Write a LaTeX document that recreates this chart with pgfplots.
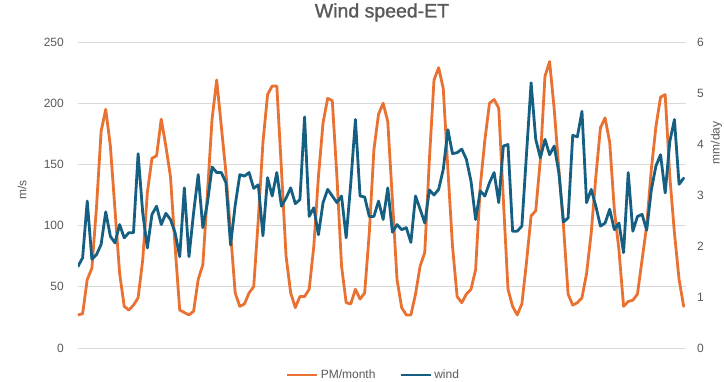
\documentclass[border=0pt]{standalone}
\usepackage{pgfplots}
\pgfplotsset{compat=1.18}
\usepackage{pgfplotstable}
\usepackage{fontspec}
\setmainfont{Liberation Sans}
\newfontfamily\titlefont[FakeBold=1.2]{Liberation Sans}
\definecolor{pmorange}{HTML}{E97132}
\definecolor{windblue}{HTML}{156082}
\definecolor{txtgray}{HTML}{595959}
\definecolor{gridgray}{HTML}{D9D9D9}

\pgfplotstableread{
i pm wind
0 27 1.60
1 28 1.77
2 56 2.88
3 65 1.74
4 115 1.83
5 177 2.03
6 195 2.67
7 165 2.19
8 113 2.06
9 61 2.42
10 34 2.16
11 31 2.26
12 35 2.26
13 41 3.81
14 72 2.65
15 127 1.96
16 155 2.62
17 157 2.78
18 187 2.42
19 165 2.64
20 140 2.52
21 83 2.26
22 31 1.79
23 29 3.14
24 27 1.79
25 30 2.65
26 56 3.40
27 68 2.36
28 127 2.85
29 187 3.55
30 219 3.44
31 181 3.44
32 143 3.24
33 94 2.02
34 45 2.80
35 34 3.40
36 36 3.37
37 45 3.44
38 50 3.13
39 105 3.20
40 168 2.20
41 207 3.34
42 214 2.98
43 214 3.44
44 146 2.78
45 75 2.94
46 45 3.14
47 33 2.83
48 42 2.91
49 42 4.53
50 48 2.58
51 83 2.75
52 140 2.22
53 184 2.85
54 204 3.11
55 202 2.98
56 140 2.85
57 67 2.98
58 37 2.16
59 36 3.24
60 48 4.48
61 40 2.98
62 45 2.96
63 94 2.58
64 162 2.58
65 191 2.88
66 200 2.52
67 185 3.14
68 121 2.27
69 56 2.42
70 33 2.32
71 27 2.36
72 27 2.07
73 44 2.98
74 67 2.72
75 78 2.45
76 154 3.10
77 219 3.00
78 229 3.11
79 212 3.50
80 146 4.28
81 83 3.81
82 42 3.83
83 37 3.90
84 44 3.70
85 48 3.27
86 64 2.52
87 132 3.08
88 170 2.98
89 200 3.24
90 203 3.44
91 196 2.85
92 121 3.96
93 48 3.99
94 34 2.29
95 27 2.29
96 36 2.39
97 70 3.80
98 108 5.20
99 112 4.09
100 154 3.73
101 222 4.09
102 234 3.79
103 195 3.96
104 146 3.44
105 100 2.47
106 44 2.55
107 35 4.17
108 37 4.14
109 41 4.64
110 61 2.85
111 94 3.11
112 140 2.78
113 180 2.39
114 188 2.45
115 168 2.72
116 113 2.32
117 80 2.45
118 34 1.87
119 38 3.44
120 39 2.29
121 44 2.58
122 72 2.62
123 100 2.31
124 146 3.10
125 181 3.57
126 205 3.79
127 207 3.04
128 140 4.05
129 94 4.48
130 56 3.21
131 34 3.33
}\datatable

\pgfplotsset{
  common/.style={
    at={(78pt,34pt)}, anchor=south west,
    scale only axis, width=608pt, height=306pt,
    xmin=0, xmax=131.5,
    xtick=\empty,
    axis line style={draw=none},
    major tick length=0pt,
    /pgf/number format/assume math mode=true,
    tick label style={font=\fontsize{12}{14}\selectfont, text=txtgray},
    label style={font=\fontsize{12}{14}\selectfont, text=txtgray},
  },
  pmline/.style={pmorange, line width=2.8pt, line join=round, line cap=round},
  windline/.style={windblue, line width=2.8pt, line join=round, line cap=round},
}

\begin{document}
\begin{tikzpicture}[x=1pt,y=1pt]
\path[use as bounding box] (0,0) rectangle (724,382);
\begin{axis}[
  common,
  ymin=0, ymax=250, ytick={0,50,...,250},
  ymajorgrids, grid style={gridgray, line width=0.8pt},
  yticklabel style={anchor=east, inner sep=0pt, xshift=-14pt},
  ylabel={m/s},
  ylabel style={at={(axis description cs:-0.092,0.516)}, anchor=center},
  title={Wind speed-ET},
  title style={at={(axis description cs:0.5,1.077)}, anchor=center,
    font=\titlefont\fontsize{19.5}{22}\selectfont, text=txtgray},
]
\addplot[pmline] table[x=i, y=pm]{\datatable};
\end{axis}
\begin{axis}[
  common,
  axis y line*=right, axis x line=none,
  ymin=0, ymax=6, ytick={0,1,...,6},
  yticklabel style={anchor=west, inner sep=0pt, xshift=11pt},
  ylabel={mm/day},
  ylabel style={at={(axis description cs:1.05,0.67)}, anchor=center},
  legend columns=2,
  legend style={at={(axis description cs:0.486,-0.088)}, anchor=center,
    draw=none, fill=none, font=\fontsize{12}{14}\selectfont, text=txtgray,
    /tikz/every even column/.append style={column sep=22pt}},
  legend image code/.code={\draw[#1, line cap=butt] (0pt,0pt) -- (30pt,0pt);},
]
\addlegendimage{pmline}
\addlegendentry{PM/month}
\addplot[windline] table[x=i, y=wind]{\datatable};
\addlegendentry{wind}
\end{axis}
\end{tikzpicture}
\end{document}
